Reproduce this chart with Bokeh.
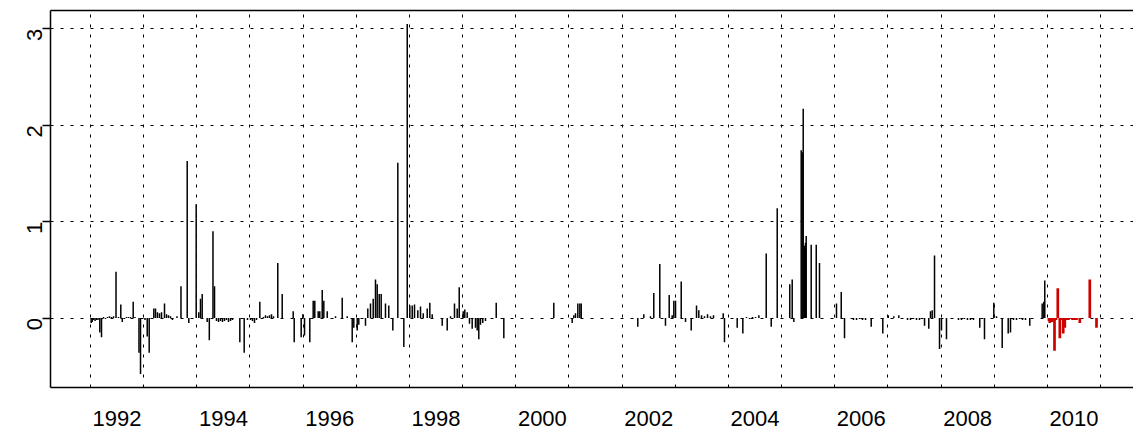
import math

from bokeh.embed import file_html
from bokeh.models import ColumnDataSource, FixedTicker, LinearAxis, Range1d
from bokeh.plotting import figure
from bokeh.resources import INLINE

# Weekly changes (decimal year of observation, change)
hist_dates = [
    1992.013, 1992.032, 1992.056, 1992.085, 1992.113, 1992.141, 1992.175, 1992.207,
    1992.245, 1992.282, 1992.320, 1992.357, 1992.395, 1992.433, 1992.480, 1992.527,
    1992.570, 1992.598, 1992.640, 1992.677, 1992.715, 1992.752, 1992.803, 1992.837,
    1992.912, 1992.941, 1993.025, 1993.067, 1993.104, 1993.191, 1993.223, 1993.260,
    1993.298, 1993.336, 1993.392, 1993.430, 1993.467, 1993.505, 1993.542, 1993.627,
    1993.702, 1993.819, 1993.849, 1993.988, 1994.037, 1994.069, 1994.101, 1994.195,
    1994.235, 1994.304, 1994.333, 1994.370, 1994.408, 1994.445, 1994.483, 1994.521,
    1994.558, 1994.596, 1994.634, 1994.671, 1994.809, 1994.891, 1994.953, 1995.010,
    1995.047, 1995.085, 1995.123, 1995.185, 1995.254, 1995.292, 1995.330, 1995.367,
    1995.405, 1995.443, 1995.523, 1995.606, 1995.813, 1995.832, 1995.963, 1995.994,
    1996.026, 1996.125, 1996.189, 1996.219, 1996.283, 1996.313, 1996.359, 1996.389,
    1996.453, 1996.609, 1996.735, 1996.829, 1996.923, 1996.953, 1997.017, 1997.047,
    1997.173, 1997.216, 1997.267, 1997.318, 1997.361, 1997.393, 1997.431, 1997.468,
    1997.549, 1997.611, 1997.687, 1997.781, 1997.894, 1997.958, 1998.007, 1998.052,
    1998.095, 1998.157, 1998.208, 1998.259, 1998.334, 1998.383, 1998.428, 1998.616,
    1998.710, 1998.772, 1998.847, 1998.898, 1998.936, 1999.011, 1999.041, 1999.086,
    1999.129, 1999.180, 1999.242, 1999.274, 1999.304, 1999.336, 1999.379, 1999.430,
    1999.632, 1999.775, 2000.715, 2001.061, 2001.092, 2001.123, 2001.167, 2001.205,
    2001.231, 2002.295, 2002.408, 2002.534, 2002.596, 2002.709, 2002.816, 2002.886,
    2002.942, 2002.973, 2003.005, 2003.112, 2003.193, 2003.300, 2003.400, 2003.443,
    2003.494, 2003.550, 2003.607, 2003.663, 2003.719, 2003.902, 2003.926, 2004.165,
    2004.271, 2004.340, 2004.397, 2004.453, 2004.510, 2004.572, 2004.711, 2004.805,
    2004.918, 2005.154, 2005.200, 2005.230, 2005.369, 2005.388, 2005.407, 2005.431,
    2005.450, 2005.463, 2005.557, 2005.652, 2005.713, 2006.033, 2006.122, 2006.184,
    2006.353, 2006.410, 2006.466, 2006.522, 2006.579, 2006.686, 2006.904, 2007.006,
    2007.111, 2007.205, 2007.369, 2007.425, 2007.482, 2007.538, 2007.594, 2007.689,
    2007.769, 2007.801, 2007.833, 2007.877, 2007.971, 2008.008, 2008.102, 2008.328,
    2008.384, 2008.441, 2008.497, 2008.553, 2008.610, 2008.728, 2008.817, 2008.992,
    2009.043, 2009.150, 2009.263, 2009.306, 2009.363, 2009.419, 2009.476, 2009.532,
    2009.588, 2009.669, 2009.902, 2009.933, 2009.951,
]
hist_changes = [
    -0.05, -0.04, -0.02, -0.03, -0.02, -0.02, -0.15, -0.20,
    0.01, -0.01, 0.01, 0.02, 0.01, 0.02, 0.48, 0.01,
    0.14, -0.04, -0.01, 0.01, 0.01, 0.01, 0.17, 0.01,
    -0.36, -0.58, -0.02, -0.19, -0.36, 0.10, 0.10, 0.06,
    0.05, 0.06, 0.15, 0.04, 0.03, 0.02, -0.02, 0.02,
    0.33, 1.63, -0.05, 1.18, 0.06, 0.20, 0.25, -0.04,
    -0.23, 0.90, 0.33, -0.03, -0.04, -0.03, -0.04, -0.03,
    -0.02, -0.04, -0.03, -0.02, -0.25, -0.36, -0.02, -0.02,
    -0.03, -0.05, -0.02, 0.17, 0.01, 0.03, 0.02, 0.03,
    0.04, 0.02, 0.57, 0.25, 0.07, -0.25, -0.20, 0.04,
    -0.18, -0.25, 0.18, 0.18, 0.07, 0.07, 0.29, 0.18,
    0.07, 0.02, 0.21, 0.02, -0.25, -0.10, -0.13, -0.07,
    -0.08, 0.10, 0.15, 0.20, 0.40, 0.35, 0.25, 0.25,
    0.15, 0.13, -0.13, 1.61, -0.30, 3.05, 0.13, 0.13,
    0.14, 0.08, 0.12, 0.05, 0.10, 0.16, 0.04, -0.08,
    -0.13, 0.02, 0.15, 0.10, 0.32, 0.07, 0.09, 0.06,
    -0.06, -0.11, -0.10, -0.13, -0.22, -0.07, -0.05, -0.03,
    0.16, -0.21, 0.16, -0.05, 0.03, 0.05, 0.15, 0.15,
    0.15, -0.09, 0.04, 0.02, 0.26, 0.56, -0.08, 0.24,
    0.03, 0.18, 0.18, 0.38, -0.04, -0.13, 0.13, 0.08,
    0.03, 0.02, 0.04, 0.02, 0.03, 0.05, -0.25, -0.10,
    -0.16, 0.01, -0.01, 0.01, 0.01, 0.03, 0.67, -0.09,
    1.14, 0.35, 0.40, -0.04, 1.74, 1.72, 2.17, 0.75,
    0.78, 0.85, 0.76, 0.76, 0.57, 0.15, 0.27, -0.21,
    -0.02, -0.02, -0.01, -0.02, -0.02, -0.09, -0.16, 0.03,
    0.02, 0.03, -0.02, -0.02, -0.01, -0.02, -0.02, -0.08,
    -0.11, 0.07, 0.08, 0.65, -0.32, -0.13, -0.22, -0.02,
    -0.02, -0.01, -0.02, -0.02, -0.02, -0.10, -0.22, 0.16,
    0.02, -0.31, -0.16, -0.15, -0.02, -0.02, -0.01, -0.02,
    -0.02, -0.08, 0.15, 0.17, 0.39,
]

# 2010 observations, highlighted in red
recent_dates = [
    2010.030, 2010.045, 2010.087, 2010.134, 2010.162, 2010.196, 2010.234, 2010.260,
    2010.298, 2010.328, 2010.360, 2010.397, 2010.435, 2010.473, 2010.510, 2010.548,
    2010.610, 2010.798, 2010.924,
]
recent_changes = [
    -0.03, -0.05, -0.04, -0.34, -0.02, 0.31, -0.21, -0.02,
    -0.16, -0.10, -0.02, -0.02, -0.01, -0.02, -0.02, -0.02,
    -0.05, 0.40, -0.10,
]

label_years = list(range(1992, 2011, 2))
grid_years = list(range(1992, 2012))
y_ticks = [0, 1, 2, 3]

FONT = "Liberation Sans"

p = figure(
    width=1133,
    height=435,
    x_range=Range1d(1991.2475, 2011.62),
    y_range=Range1d(-0.72, 3.19),
    output_backend="svg",
    toolbar_location=None,
    min_border_left=50,
    min_border_right=0,
    min_border_top=10,
    min_border_bottom=48,
)
p.outline_line_color = None
p.background_fill_color = "white"
p.border_fill_color = "white"

# bottom axis: year labels centred inside each year, no tick marks
xa = p.xaxis[0]
xa.ticker = FixedTicker(ticks=[y + 0.5 for y in label_years])
xa.major_label_overrides = {y + 0.5: str(y) for y in label_years}
xa.major_tick_out = 0
xa.major_tick_in = 0
xa.minor_tick_out = 0
xa.minor_tick_in = 0
xa.axis_line_width = 1.5
xa.axis_line_color = "black"
xa.major_label_text_font = FONT
xa.major_label_text_font_size = "22px"
xa.major_label_text_color = "black"
xa.major_label_standoff = 23

# left axis: outward ticks, rotated labels
ya = p.yaxis[0]
ya.ticker = FixedTicker(ticks=y_ticks)
ya.major_tick_out = 8
ya.major_tick_in = 0
ya.minor_tick_out = 0
ya.minor_tick_in = 0
ya.major_tick_line_width = 1.5
ya.major_tick_line_color = "black"
ya.axis_line_width = 1.5
ya.axis_line_color = "black"
ya.major_label_orientation = math.pi / 2
ya.major_label_text_font = FONT
ya.major_label_text_font_size = "22px"
ya.major_label_text_color = "black"
ya.major_label_standoff = 8

# top frame line
top = LinearAxis(
    ticker=FixedTicker(ticks=[]),
    major_tick_out=0,
    major_tick_in=0,
    minor_tick_out=0,
    minor_tick_in=0,
    major_label_text_font_size="0px",
    major_label_standoff=0,
    axis_line_width=1.5,
    axis_line_color="black",
)
p.add_layout(top, "above")

# dotted grid: year boundaries and unit levels
p.xgrid[0].ticker = FixedTicker(ticks=grid_years)
p.ygrid[0].ticker = FixedTicker(ticks=y_ticks)
for g in (p.xgrid[0], p.ygrid[0]):
    g.grid_line_color = "black"
    g.grid_line_width = 1
    g.grid_line_dash = "3 7"
    g.grid_line_alpha = 1.0

hist = ColumnDataSource(dict(date=hist_dates, change=hist_changes))
recent = ColumnDataSource(dict(date=recent_dates, change=recent_changes))

p.segment(x0="date", y0=0, x1="date", y1="change", source=hist,
          line_color="black", line_width=1.5, line_cap="butt")
p.segment(x0="date", y0=0, x1="date", y1="change", source=recent,
          line_color="#CD0000", line_width=2.7, line_cap="butt")

open("out.html", "w").write(file_html(p, INLINE))
